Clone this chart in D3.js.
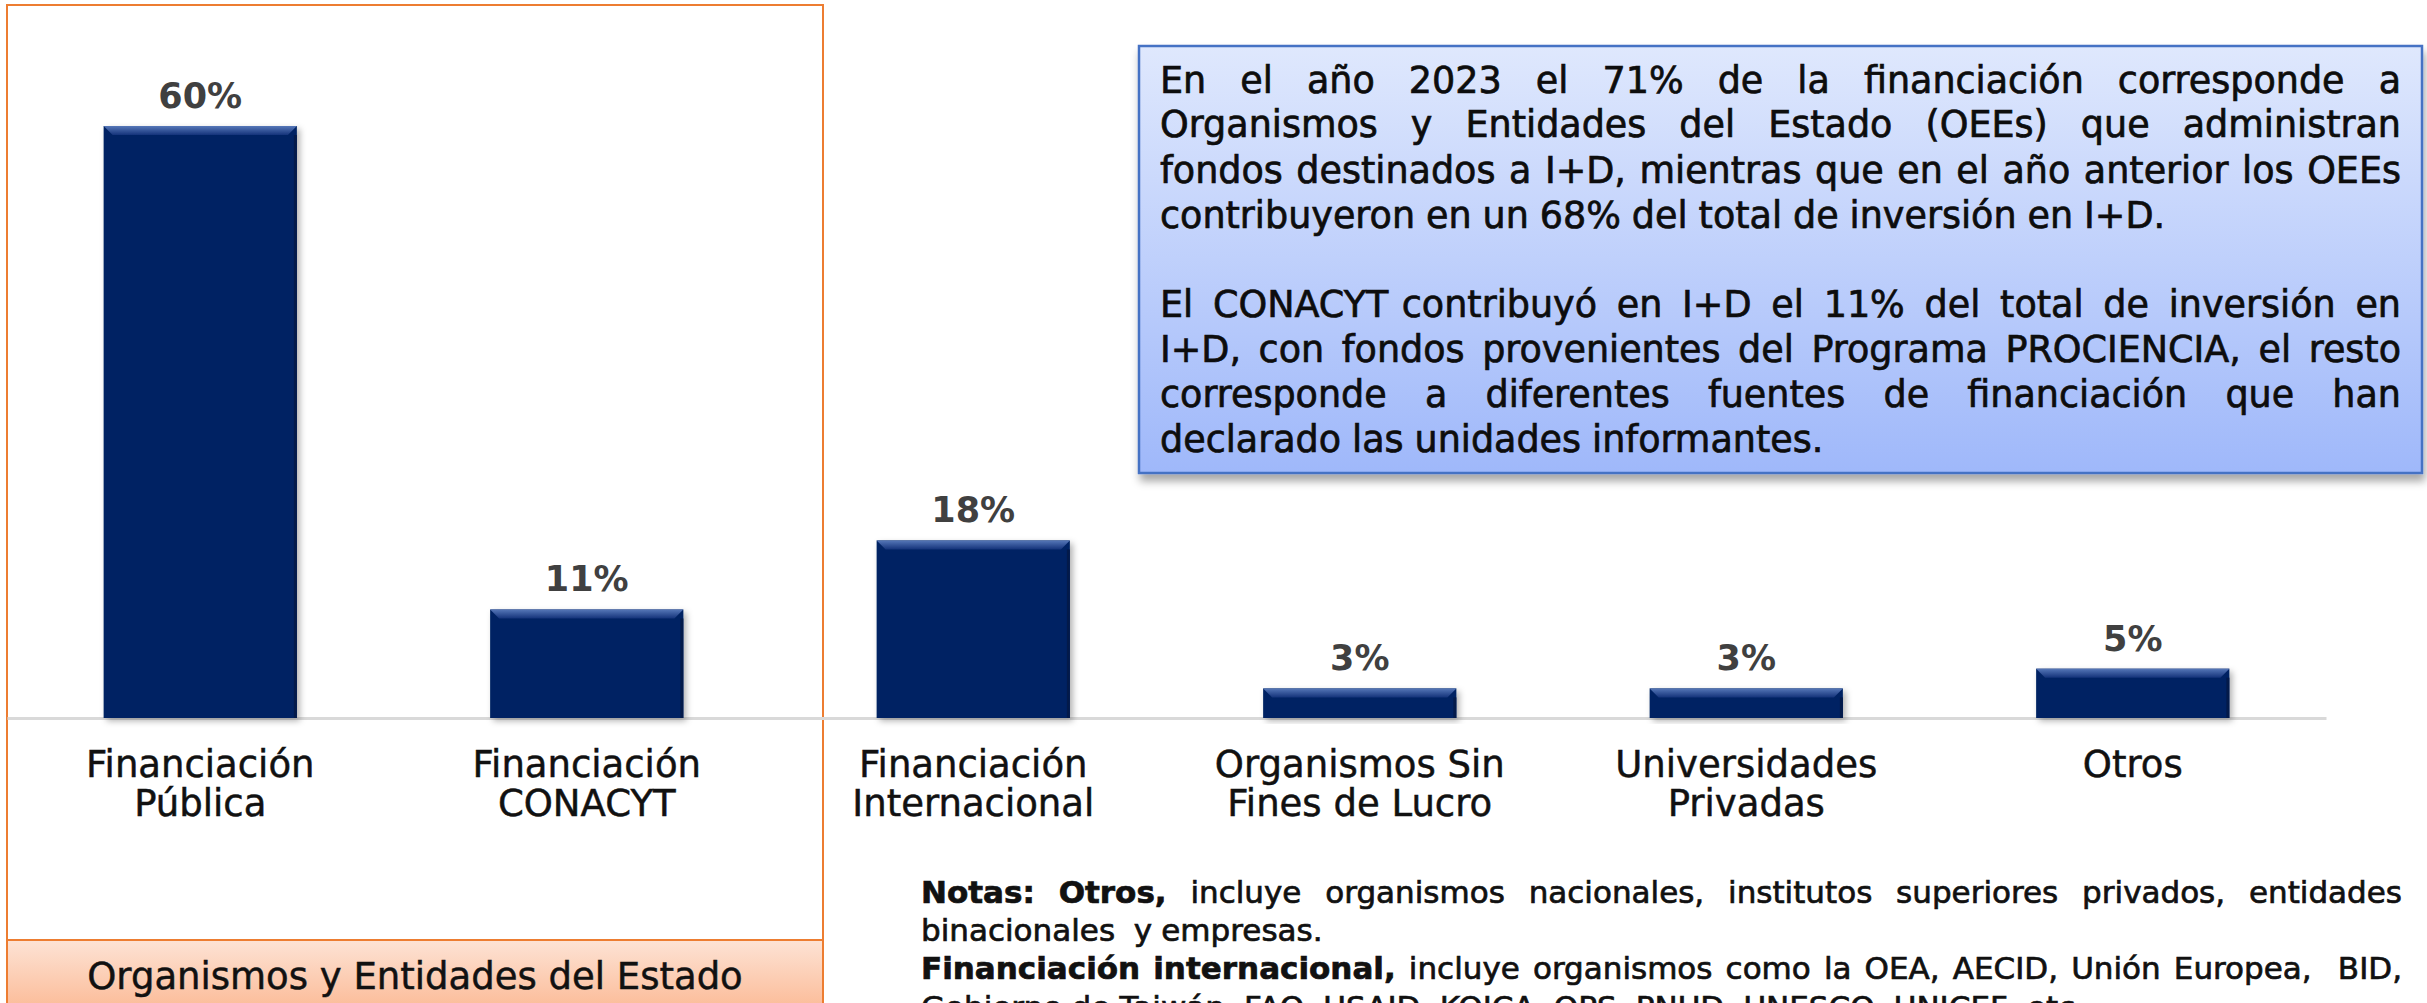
<!DOCTYPE html>
<html>
<head>
<meta charset="utf-8">
<script src="https://cdn.jsdelivr.net/npm/d3@7"></script>
<style>
  body { margin: 0; background: #fff; }
  svg text { font-family: "DejaVu Sans", sans-serif; }
</style>
</head>
<body>
<div id="chart"></div>
<script>
// Data
var categories = ["Financiación Pública", "Financiación CONACYT", "Financiación Internacional",
                  "Organismos Sin Fines de Lucro", "Universidades Privadas", "Otros"];
var categoryLines = [["Financiación", "Pública"], ["Financiación", "CONACYT"], ["Financiación", "Internacional"],
                     ["Organismos Sin", "Fines de Lucro"], ["Universidades", "Privadas"], ["Otros"]];
var values = [60, 11, 18, 3, 3, 5];
var valueLabels = ["60%", "11%", "18%", "3%", "3%", "5%"];
var groupLabel = "Organismos y Entidades del Estado";

// Text box lines (justified like the original)
var boxLines = [
    "En el año 2023 el 71% de la financiación corresponde a",
    "Organismos y Entidades del Estado (OEEs) que administran",
    "fondos destinados a I+D, mientras que en el año anterior los OEEs",
    "contribuyeron en un 68% del total de inversión en I+D.",
    "",
    "El CONACYT contribuyó en I+D el 11% del total de inversión en",
    "I+D, con fondos provenientes del Programa PROCIENCIA, el resto",
    "corresponde a diferentes fuentes de financiación que han",
    "declarado las unidades informantes."
];
var boxLast = [false, false, false, true, true, false, false, false, true];

var noteLines = [
    [["Notas: Otros,", true], ["incluye organismos nacionales, institutos superiores privados, entidades", false]],
    [["binacionales  y empresas.", false]],
    [["Financiación internacional,", true], ["incluye organismos como la OEA, AECID, Unión Europea,  BID,", false]],
    [["Gobierno de Taiwán, FAO, USAID, KOICA, OPS, PNUD, UNESCO, UNICEF, etc.", false]]
];
var noteLast = [false, true, false, true];

var width = 2427, height = 1003;

var svg = d3.select("#chart").append("svg")
    .attr("width", width)
    .attr("height", height)
    .style("display", "block");

var defs = svg.append("defs");

var boxGrad = defs.append("linearGradient").attr("id", "boxGrad")
    .attr("x1", 0).attr("y1", 0).attr("x2", 0).attr("y2", 1);
boxGrad.append("stop").attr("offset", "0%").attr("stop-color", "#dfe8fd");
boxGrad.append("stop").attr("offset", "100%").attr("stop-color", "#9fb8fa");

var footGrad = defs.append("linearGradient").attr("id", "footGrad")
    .attr("x1", 0).attr("y1", 0).attr("x2", 0).attr("y2", 1);
footGrad.append("stop").attr("offset", "0%").attr("stop-color", "#fde3d5");
footGrad.append("stop").attr("offset", "100%").attr("stop-color", "#fbb58e");

var bevelGrad = defs.append("linearGradient").attr("id", "bevelGrad")
    .attr("x1", 0).attr("y1", 0).attr("x2", 0).attr("y2", 1);
bevelGrad.append("stop").attr("offset", "0%").attr("stop-color", "#5677b8");
bevelGrad.append("stop").attr("offset", "100%").attr("stop-color", "#14337a");

var shadow = defs.append("filter").attr("id", "shadow")
    .attr("x", "-10%").attr("y", "-10%").attr("width", "130%").attr("height", "130%");
shadow.append("feDropShadow").attr("dx", 3).attr("dy", 3).attr("stdDeviation", 3)
    .attr("flood-color", "#000").attr("flood-opacity", 0.3);

var boxShadow = defs.append("filter").attr("id", "boxShadow")
    .attr("x", "-5%").attr("y", "-5%").attr("width", "110%").attr("height", "120%");
boxShadow.append("feDropShadow").attr("dx", 2).attr("dy", 7).attr("stdDeviation", 4)
    .attr("flood-color", "#000").attr("flood-opacity", 0.35);

// Orange group frame
svg.append("rect")
    .attr("x", 7).attr("y", 5)
    .attr("width", 816).attr("height", 1010)
    .attr("fill", "none")
    .attr("stroke", "#ed7d31")
    .attr("stroke-width", 2);

// Scales
var xScale = d3.scaleBand()
    .domain(categories)
    .range([7, 2326])
    .paddingInner(0.5)
    .paddingOuter(0.25);

var yScale = d3.scaleLinear()
    .domain([0, 60])
    .range([718, 126]);

// Axis
var xAxis = d3.axisBottom(xScale).tickSize(0).tickFormat("");
var axisG = svg.append("g")
    .attr("class", "x axis")
    .attr("transform", "translate(0," + yScale(0) + ")")
    .call(xAxis);
axisG.select(".domain").attr("stroke", "#d9d9d9").attr("stroke-width", 3);

// Category labels
axisG.selectAll(".tick").each(function(d, i) {
    var t = d3.select(this).append("text")
        .attr("fill", "#111")
        .attr("stroke", "#111")
        .attr("stroke-width", 0.5)
        .attr("font-size", 37)
        .attr("text-anchor", "middle");
    categoryLines[i].forEach(function(line, j) {
        t.append("tspan").attr("x", 0).attr("y", 59 + j * 39).text(line);
    });
});

// Bars
var bars = svg.selectAll(".bar")
    .data(values)
  .enter().append("g")
    .attr("class", "bar");

bars.append("rect")
    .attr("x", function(d, i) { return xScale(categories[i]); })
    .attr("y", function(d) { return yScale(d); })
    .attr("width", xScale.bandwidth())
    .attr("height", function(d) { return yScale(0) - yScale(d); })
    .attr("fill", "#052463")
    .attr("filter", "url(#shadow)");

// top bevel
bars.append("path")
    .attr("d", function(d, i) {
        var x0 = xScale(categories[i]), x1 = x0 + xScale.bandwidth(), y0 = yScale(d), b = 9;
        return "M" + x0 + "," + y0 + "L" + x1 + "," + y0 + "L" + (x1 - b) + "," + (y0 + b) +
               "L" + (x0 + b) + "," + (y0 + b) + "Z";
    })
    .attr("fill", "url(#bevelGrad)");

// side edge
bars.append("rect")
    .attr("x", function(d, i) { return xScale(categories[i]) + xScale.bandwidth() - 3; })
    .attr("y", function(d) { return yScale(d) + 9; })
    .attr("width", 3)
    .attr("height", function(d) { return yScale(0) - yScale(d) - 9; })
    .attr("fill", "#031a4a");

// Value labels
svg.selectAll(".val")
    .data(values)
  .enter().append("text")
    .attr("class", "val")
    .attr("x", function(d, i) { return xScale(categories[i]) + xScale.bandwidth() / 2; })
    .attr("y", function(d) { return yScale(d) - 18; })
    .attr("text-anchor", "middle")
    .attr("font-size", 35)
    .attr("font-weight", 700)
    .attr("fill", "#404040")
    .text(function(d, i) { return valueLabels[i]; });

// Footer of the orange group
svg.append("rect")
    .attr("x", 7).attr("y", 940)
    .attr("width", 816).attr("height", 80)
    .attr("fill", "url(#footGrad)")
    .attr("stroke", "#ed7d31")
    .attr("stroke-width", 2);

svg.append("text")
    .attr("x", 415).attr("y", 989)
    .attr("text-anchor", "middle")
    .attr("font-size", 37)
    .attr("fill", "#111")
    .attr("stroke", "#111")
    .attr("stroke-width", 0.5)
    .text(groupLabel);

// Justified line helper
function drawLine(parent, segs, x0, x1, y, justify, size, color) {
    var words = [];
    segs.forEach(function(s) {
        s[0].split(" ").forEach(function(w) { words.push([w, s[1]]); });
    });
    words = words.filter(function(w, i) { return w[0] !== "" || (i > 0 && words[i - 1][0] !== ""); });
    if (!words.length || (words.length === 1 && words[0][0] === "")) return;
    var t = parent.append("text").attr("y", y).attr("font-size", size)
        .attr("fill", color).attr("stroke", color).attr("stroke-width", 0.7);
    var spans = words.map(function(w) {
        return t.append("tspan").attr("font-weight", w[1] ? 700 : 400).text(w[0]);
    });
    var widths = spans.map(function(s) { return s.node().getComputedTextLength(); });
    var total = d3.sum(widths);
    var gap = (justify && words.length > 1) ? (x1 - x0 - total) / (words.length - 1) : size * 0.3;
    var x = x0;
    spans.forEach(function(s, i) { s.attr("x", x); x += widths[i] + gap; });
}

// Text box
var box = svg.append("g");
box.append("rect")
    .attr("x", 1139).attr("y", 46)
    .attr("width", 1283).attr("height", 427)
    .attr("fill", "url(#boxGrad)")
    .attr("stroke", "#4472c4")
    .attr("stroke-width", 2.5)
    .attr("filter", "url(#boxShadow)");

var boxY = [93, 137, 183, 228, 272, 317, 362, 407, 452];
boxLines.forEach(function(line, i) {
    drawLine(box, [[line, false]], 1160, 2401, boxY[i], !boxLast[i], 36.5, "#0d0d0d");
});

// Notes
var notes = svg.append("g");
var noteY = [903, 941, 979, 1018];
noteLines.forEach(function(segs, i) {
    drawLine(notes, segs, 921, 2402, noteY[i], !noteLast[i], 31, "#111");
});
</script>
</body>
</html>
